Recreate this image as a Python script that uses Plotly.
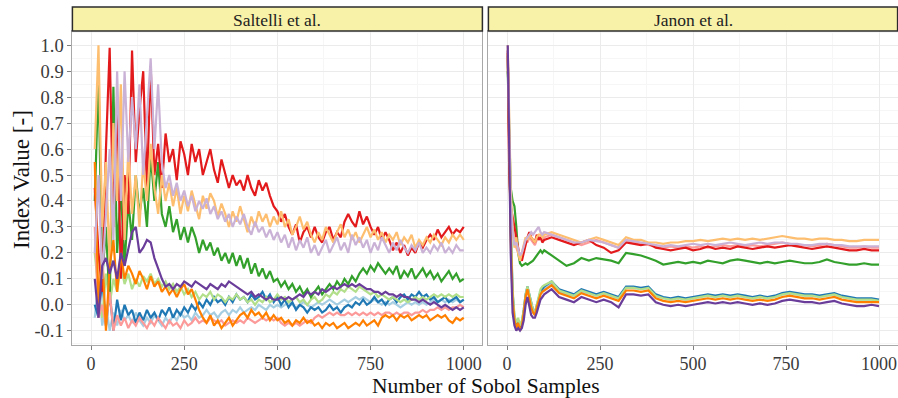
import plotly.graph_objects as go

# Sample counts at which the running index estimates are recorded
saltelli_n = list(range(10, 1001, 10))
janon_n = [2, 6] + list(range(10, 100, 5)) + list(range(100, 1001, 20))

# ---- Saltelli et al. estimator (one list per input factor) ----
saltelli_lightblue = [
    -0.05, 0.1, -0.08, 0.0, -0.1, -0.03, -0.08, -0.02, -0.06, -0.04,
    -0.07, -0.03, -0.06, -0.08, -0.05, -0.07, -0.04, -0.06, -0.08, -0.05,
    -0.07, -0.04, -0.06, -0.03, -0.05, -0.04, -0.06, -0.03, -0.05, -0.04,
    -0.02, -0.04, -0.03, -0.05, -0.03, -0.02, -0.04, -0.02, -0.03, -0.01,
    -0.03, -0.02, -0.01, -0.02, 0.0, -0.01, -0.02, 0.0, -0.01, 0.0,
    -0.01, 0.0, 0.01, 0.0, -0.01, 0.0, 0.01, 0.0, -0.01, 0.0,
    0.01, 0.0, 0.01, 0.02, 0.01, 0.0, 0.01, 0.02, 0.01, 0.02,
    0.03, 0.02, 0.03, 0.02, 0.01, 0.02, 0.01, 0.0, 0.01, 0.0,
    0.01, 0.0, -0.01, 0.0, 0.01, 0.0, 0.01, 0.0, 0.01, 0.0,
    0.01, 0.02, 0.01, 0.02, 0.01, 0.02, 0.01, 0.02, 0.01, 0.02,
]
saltelli_blue = [
    0.0, -0.05, 0.1, -0.08, 0.05, -0.1, 0.02, -0.06, 0.0, -0.04,
    -0.02, -0.07, -0.03, -0.06, -0.02, -0.05, -0.03, -0.06, -0.02, -0.04,
    -0.01, -0.05, -0.02, -0.04, -0.01, -0.03, 0.0, -0.02, 0.01, -0.01,
    0.02, 0.0, 0.03, 0.01, 0.02, 0.0, 0.03, 0.01, 0.04, 0.02,
    0.03, 0.01, 0.04, 0.02, 0.03, 0.05, 0.02, 0.04, 0.01, 0.03,
    0.0, 0.02, -0.01, 0.01, -0.02, 0.0, -0.01, -0.03, -0.01, -0.02,
    -0.01, -0.03, -0.02, 0.0, -0.02, -0.01, -0.03, -0.01, 0.0, -0.01,
    0.01, 0.0, 0.02, 0.0, 0.01, 0.03, 0.01, 0.02, 0.0, 0.02,
    0.03, 0.01, 0.03, 0.04, 0.02, 0.04, 0.03, 0.05, 0.03, 0.04,
    0.02, 0.03, 0.01, 0.02, 0.03, 0.01, 0.02, 0.03, 0.01, 0.02,
]
saltelli_lightgreen = [
    0.2, 0.05, -0.05, 0.12, 0.0, 0.1, 0.05, 0.15, 0.08, 0.12,
    0.06, 0.1, 0.07, 0.11, 0.09, 0.12, 0.08, 0.1, 0.07, 0.09,
    0.06, 0.08, 0.05, 0.07, 0.04, 0.06, 0.03, 0.05, 0.02, 0.04,
    0.03, 0.05, 0.02, 0.04, 0.03, 0.01, 0.03, 0.02, 0.04, 0.02,
    0.03, 0.01, 0.02, 0.0, 0.02, 0.01, 0.03, 0.01, 0.02, 0.04,
    0.02, 0.03, 0.01, 0.02, 0.03, 0.01, 0.02, 0.0, 0.02, 0.03,
    0.01, 0.02, 0.04, 0.03, 0.05, 0.04, 0.06, 0.05, 0.07, 0.06,
    0.05, 0.07, 0.06, 0.05, 0.04, 0.05, 0.03, 0.04, 0.03, 0.02,
    0.03, 0.02, 0.01, 0.02, 0.01, 0.02, 0.03, 0.02, 0.03, 0.02,
    0.03, 0.04, 0.03, 0.04, 0.03, 0.04, 0.03, 0.04, 0.03, 0.03,
]
saltelli_green = [
    0.4, 0.88, 0.1, 0.3, 0.0, 0.84, 0.2, 0.45, 0.15, 0.4,
    0.25, 0.5, 0.35, 0.45, 0.3, 0.58, 0.4, 0.55, 0.35, 0.3,
    0.38, 0.28, 0.33, 0.25, 0.3, 0.24, 0.3, 0.26, 0.2, 0.25,
    0.21, 0.24, 0.19, 0.22, 0.17, 0.2, 0.16, 0.2, 0.15, 0.19,
    0.14, 0.18, 0.12, 0.16, 0.11, 0.14, 0.1, 0.13, 0.09, 0.1,
    0.07, 0.09, 0.06, 0.08, 0.05, 0.07, 0.04, 0.06, 0.03, 0.05,
    0.07, 0.04, 0.06, 0.08, 0.06, 0.09, 0.07, 0.1, 0.08, 0.11,
    0.09, 0.12, 0.14, 0.12, 0.15, 0.13, 0.16, 0.14, 0.12, 0.14,
    0.12, 0.15, 0.1, 0.13, 0.11, 0.14, 0.1, 0.12, 0.14, 0.11,
    0.13, 0.1, 0.12, 0.09, 0.11, 0.13, 0.1, 0.12, 0.09, 0.1,
]
saltelli_pink = [
    0.3, -0.05, 0.0, -0.08, 0.05, -0.1, -0.04, -0.08, -0.05, -0.09,
    -0.06, -0.08, -0.05, -0.07, -0.09, -0.06, -0.08, -0.05, -0.07, -0.09,
    -0.06, -0.08, -0.07, -0.09, -0.06, -0.08, -0.07, -0.05, -0.07, -0.06,
    -0.07, -0.05, -0.06, -0.07, -0.06, -0.08, -0.07, -0.06, -0.07, -0.06,
    -0.07, -0.05, -0.06, -0.07, -0.06, -0.05, -0.06, -0.05, -0.06, -0.05,
    -0.07, -0.08, -0.07, -0.08, -0.07, -0.08, -0.07, -0.06, -0.07, -0.05,
    -0.04, -0.05, -0.04, -0.03, -0.04, -0.03, -0.04, -0.04, -0.03, -0.04,
    -0.03, -0.04, -0.03, -0.04, -0.03, -0.04, -0.03, -0.04, -0.03, -0.03,
    -0.04, -0.03, -0.04, -0.03, -0.03, -0.04, -0.03, -0.03, -0.02, -0.03,
    -0.02, -0.02, -0.01, -0.02, -0.01, -0.02, -0.01, -0.01, 0.0, -0.01,
]
saltelli_red = [
    0.45, 0.2, 0.05, 0.6, 0.99, 0.3, 0.8, 0.1, 0.5, 0.35,
    0.98, 0.55, 0.75, 0.9, 0.45, 0.92, 0.5, 0.62, 0.45, 0.66,
    0.55, 0.6, 0.48, 0.63, 0.58, 0.5, 0.62, 0.55, 0.6, 0.5,
    0.55, 0.6, 0.52, 0.47, 0.56, 0.5, 0.45, 0.5, 0.46, 0.48,
    0.44, 0.5, 0.45, 0.42, 0.48, 0.44, 0.47, 0.42, 0.38, 0.36,
    0.32, 0.35, 0.3, 0.27, 0.31, 0.24, 0.28, 0.3, 0.26, 0.3,
    0.26, 0.24, 0.28, 0.3, 0.25, 0.28, 0.26, 0.32, 0.35, 0.32,
    0.3, 0.36, 0.31, 0.34, 0.3, 0.27, 0.3, 0.25, 0.28, 0.25,
    0.21, 0.24, 0.2, 0.23, 0.19, 0.22, 0.2, 0.24, 0.22, 0.25,
    0.27, 0.25, 0.29, 0.26, 0.28, 0.3, 0.27, 0.29, 0.28, 0.3,
]
saltelli_lightorange = [
    0.6, 1.0, 0.3, 0.55, 0.15, 0.7, 0.4, 0.85, 0.25, 0.6,
    0.35, 0.5, 0.3, 0.55, 0.4, 0.62, 0.45, 0.35, 0.5, 0.4,
    0.47, 0.38, 0.45, 0.35, 0.42, 0.36, 0.44, 0.38, 0.33, 0.42,
    0.37, 0.43, 0.4, 0.34, 0.39, 0.35, 0.3, 0.36, 0.32, 0.38,
    0.33, 0.28, 0.34, 0.3, 0.36, 0.32, 0.35, 0.3, 0.34, 0.31,
    0.36, 0.3, 0.33, 0.27, 0.3, 0.34, 0.29, 0.32, 0.27, 0.24,
    0.28, 0.25, 0.3, 0.27, 0.24, 0.28, 0.31, 0.26, 0.29, 0.25,
    0.28, 0.24, 0.27, 0.3, 0.26, 0.29, 0.25, 0.28, 0.24, 0.27,
    0.25, 0.28, 0.23, 0.26, 0.24, 0.27, 0.22, 0.25, 0.23, 0.26,
    0.24, 0.27, 0.25, 0.23, 0.26, 0.24, 0.27, 0.25, 0.27, 0.25,
]
saltelli_orange = [
    0.55, 0.0, 0.2, -0.1, 0.15, 0.25, 0.05, 0.2, 0.1, 0.15,
    0.12, 0.08, 0.13, 0.1, 0.06, 0.11, 0.07, 0.09, 0.05, 0.07,
    0.04, 0.06, 0.03, 0.06, 0.08, 0.04, 0.06, 0.02, -0.02, -0.05,
    -0.07, -0.04, -0.08, -0.06, -0.09, -0.07, -0.05, -0.08, -0.06, -0.04,
    -0.03, -0.05, -0.02, -0.04, -0.03, -0.05, -0.03, -0.06, -0.04, -0.06,
    -0.05, -0.07, -0.06, -0.08, -0.06, -0.07, -0.05, -0.07, -0.06, -0.08,
    -0.07, -0.09, -0.07, -0.08, -0.07, -0.09, -0.08, -0.07, -0.09, -0.08,
    -0.07, -0.08, -0.06, -0.08, -0.07, -0.06, -0.08, -0.05, -0.04, -0.05,
    -0.04, -0.06, -0.04, -0.05, -0.04, -0.06, -0.05, -0.04, -0.05, -0.04,
    -0.06, -0.05, -0.04, -0.05, -0.04, -0.06, -0.07, -0.05, -0.06, -0.05,
]
saltelli_lightpurple = [
    0.2, 0.5, 0.1, 0.35, 0.6, 0.25, 0.9, 0.4, 0.9, 0.55,
    0.8, 0.6, 0.85, 0.5, 0.75, 0.95, 0.6, 0.85, 0.55, 0.45,
    0.5, 0.42, 0.47, 0.4, 0.44, 0.38, 0.42, 0.36, 0.4, 0.37,
    0.41, 0.35, 0.38, 0.33, 0.36, 0.32, 0.35, 0.3, 0.34, 0.31,
    0.35, 0.3, 0.27, 0.32, 0.28, 0.3, 0.26, 0.29, 0.25, 0.28,
    0.24, 0.27, 0.22, 0.26, 0.21, 0.25, 0.22, 0.26, 0.2, 0.23,
    0.19, 0.22, 0.25, 0.2, 0.23, 0.26, 0.21, 0.24, 0.2, 0.27,
    0.23, 0.26, 0.22, 0.25, 0.2, 0.24, 0.21, 0.26, 0.23, 0.2,
    0.24, 0.21, 0.25, 0.22, 0.2, 0.23, 0.21, 0.24, 0.2, 0.22,
    0.2, 0.23, 0.21, 0.24, 0.2, 0.22, 0.2, 0.23, 0.21, 0.21,
]
saltelli_purple = [
    0.1, -0.05, 0.15, 0.18, 0.12, 0.17, 0.1, 0.2, 0.15, 0.22,
    0.28, 0.3, 0.2, 0.22, 0.25, 0.24, 0.18, 0.14, 0.1, 0.07,
    0.08, 0.06, 0.08, 0.07, 0.09, 0.08, 0.07, 0.09, 0.08, 0.07,
    0.06, 0.08, 0.07, 0.06, 0.08, 0.07, 0.09, 0.08, 0.07, 0.06,
    0.05, 0.04, 0.05, 0.03, 0.04, 0.03, 0.02, 0.03, 0.02, 0.02,
    0.03, 0.02, 0.03, 0.02, 0.03, 0.04, 0.03, 0.05, 0.04, 0.05,
    0.04, 0.06, 0.05, 0.06, 0.07, 0.06, 0.07, 0.08, 0.07, 0.08,
    0.07, 0.08, 0.07, 0.06, 0.06, 0.05, 0.05, 0.04, 0.05, 0.04,
    0.04, 0.03, 0.04, 0.03, 0.03, 0.02, 0.02, 0.01, 0.02, 0.01,
    0.0, 0.01, 0.0, -0.01, 0.0, -0.01, -0.02, -0.01, -0.02, -0.01,
]

# ---- Janon et al. estimator ----
janon_lightblue = [
    0.95, 0.58, 0.28, 0.04, -0.06, -0.08, -0.07, -0.09, -0.07, -0.03, 0.03, 0.06, 0.03, -0.01, -0.03, -0.04, -0.01, 0.02, 0.04, 0.05,
    0.06, 0.08, 0.05, 0.04, 0.035, 0.05, 0.045, 0.035, 0.045, 0.035, 0.025, 0.065, 0.065, 0.06, 0.065, 0.035,
    0.025, 0.02, 0.025, 0.02, 0.025, 0.03, 0.035, 0.03, 0.035, 0.03, 0.035, 0.03, 0.025, 0.03, 0.025, 0.03,
    0.04, 0.045, 0.04, 0.035, 0.035, 0.03, 0.035, 0.04, 0.03, 0.025, 0.02, 0.02, 0.02, 0.015, 0.02,
]
janon_blue = [
    0.96, 0.6, 0.3, 0.05, -0.05, -0.08, -0.06, -0.09, -0.07, -0.02, 0.04, 0.07, 0.04, 0.0, -0.02, -0.03, 0.0, 0.03, 0.05, 0.06,
    0.07, 0.09, 0.06, 0.05, 0.04, 0.06, 0.05, 0.04, 0.05, 0.04, 0.03, 0.07, 0.07, 0.065, 0.07, 0.04,
    0.03, 0.025, 0.03, 0.025, 0.03, 0.035, 0.04, 0.035, 0.04, 0.035, 0.04, 0.035, 0.03, 0.035, 0.03, 0.035,
    0.045, 0.05, 0.045, 0.04, 0.04, 0.035, 0.04, 0.045, 0.035, 0.03, 0.025, 0.025, 0.025, 0.02, 0.03,
]
janon_lightgreen = [
    0.95, 0.6, 0.32, 0.06, -0.04, -0.07, -0.05, -0.08, -0.06, -0.02, 0.04, 0.07, 0.04, 0.0, -0.02, -0.03, 0.0, 0.03, 0.06, 0.07,
    0.075, 0.09, 0.055, 0.045, 0.035, 0.055, 0.045, 0.035, 0.045, 0.035, 0.025, 0.065, 0.065, 0.06, 0.065, 0.035,
    0.025, 0.02, 0.025, 0.02, 0.025, 0.03, 0.035, 0.03, 0.035, 0.03, 0.035, 0.03, 0.025, 0.03, 0.025, 0.03,
    0.04, 0.045, 0.04, 0.035, 0.035, 0.03, 0.035, 0.04, 0.03, 0.025, 0.02, 0.02, 0.02, 0.015, 0.02,
]
janon_green = [
    0.9, 0.6, 0.45, 0.4, 0.38, 0.3, 0.2, 0.16, 0.15, 0.155, 0.16, 0.155, 0.16, 0.165, 0.17, 0.18, 0.19, 0.2, 0.21, 0.2,
    0.21, 0.19, 0.17, 0.15, 0.16, 0.18, 0.17, 0.18, 0.175, 0.17, 0.16, 0.2, 0.195, 0.19, 0.18, 0.17,
    0.155, 0.16, 0.165, 0.16, 0.165, 0.16, 0.17, 0.165, 0.16, 0.17, 0.175, 0.17, 0.165, 0.16, 0.165, 0.16,
    0.165, 0.17, 0.165, 0.16, 0.16, 0.165, 0.175, 0.165, 0.16, 0.155, 0.155, 0.16, 0.155, 0.155,
    0.155,
]
janon_pink = [
    0.97, 0.55, 0.36, 0.3, 0.24, 0.22, 0.2, 0.18, 0.19, 0.22, 0.25, 0.24, 0.26, 0.25, 0.24, 0.23, 0.25, 0.26, 0.26, 0.25,
    0.26, 0.27, 0.26, 0.25, 0.24, 0.23, 0.24, 0.25, 0.24, 0.23, 0.22, 0.25, 0.24, 0.235, 0.23, 0.225,
    0.22, 0.225, 0.22, 0.225, 0.22, 0.225, 0.22, 0.225, 0.23, 0.225, 0.23, 0.225, 0.23, 0.225, 0.23, 0.235,
    0.24, 0.235, 0.23, 0.23, 0.225, 0.23, 0.235, 0.23, 0.225, 0.22, 0.22, 0.225, 0.22, 0.22, 0.22,
]
janon_red = [
    0.98, 0.5, 0.38, 0.34, 0.3, 0.26, 0.22, 0.18, 0.17, 0.2, 0.24, 0.26, 0.28, 0.26, 0.25, 0.24, 0.27, 0.25, 0.26, 0.24,
    0.25, 0.26, 0.25, 0.24, 0.23, 0.24, 0.25, 0.23, 0.22, 0.2, 0.21, 0.24, 0.235, 0.23, 0.235, 0.22,
    0.215, 0.21, 0.215, 0.22, 0.21, 0.215, 0.225, 0.215, 0.22, 0.215, 0.225, 0.22, 0.215, 0.22, 0.225, 0.22,
    0.225, 0.23, 0.225, 0.22, 0.215, 0.22, 0.225, 0.22, 0.215, 0.21, 0.21, 0.215, 0.21, 0.21, 0.215,
]
janon_lightorange = [
    1.0, 0.7, 0.45, 0.3, 0.22, 0.26, 0.2, 0.17, 0.2, 0.24, 0.26, 0.25, 0.27, 0.26, 0.25, 0.24, 0.26, 0.27, 0.27, 0.26,
    0.27, 0.28, 0.27, 0.26, 0.25, 0.24, 0.25, 0.26, 0.25, 0.24, 0.23, 0.26, 0.25, 0.25, 0.24, 0.24,
    0.235, 0.24, 0.24, 0.245, 0.245, 0.25, 0.245, 0.25, 0.255, 0.25, 0.255, 0.25, 0.255, 0.25, 0.255, 0.26,
    0.265, 0.26, 0.255, 0.255, 0.25, 0.255, 0.255, 0.25, 0.25, 0.245, 0.245, 0.25, 0.25, 0.25, 0.25,
]
janon_orange = [
    0.97, 0.55, 0.25, 0.02, -0.06, -0.09, -0.07, -0.1, -0.08, -0.03, 0.03, 0.06, 0.02, -0.01, -0.03, -0.04, -0.01, 0.02, 0.04, 0.05,
    0.055, 0.075, 0.045, 0.035, 0.025, 0.045, 0.035, 0.025, 0.035, 0.025, 0.015, 0.055, 0.055, 0.05, 0.055, 0.025,
    0.015, 0.01, 0.015, 0.01, 0.015, 0.02, 0.025, 0.02, 0.025, 0.02, 0.025, 0.02, 0.015, 0.02, 0.015, 0.02,
    0.03, 0.035, 0.03, 0.025, 0.025, 0.02, 0.025, 0.03, 0.02, 0.015, 0.01, 0.01, 0.01, 0.01, 0.015,
]
janon_lightpurple = [
    0.98, 0.6, 0.4, 0.28, 0.23, 0.24, 0.21, 0.19, 0.2, 0.23, 0.25, 0.26, 0.27, 0.28, 0.27, 0.28, 0.29, 0.3, 0.28, 0.27,
    0.28, 0.27, 0.26, 0.25, 0.24, 0.24, 0.25, 0.245, 0.24, 0.23, 0.22, 0.25, 0.245, 0.24, 0.235, 0.23,
    0.225, 0.23, 0.225, 0.23, 0.235, 0.23, 0.235, 0.23, 0.235, 0.24, 0.235, 0.23, 0.235, 0.24, 0.235, 0.24,
    0.24, 0.235, 0.235, 0.23, 0.23, 0.235, 0.235, 0.23, 0.23, 0.225, 0.225, 0.225, 0.225, 0.225, 0.225,
]
janon_purple = [
    1.0, 0.52, 0.2, -0.03, -0.08, -0.1, -0.09, -0.1, -0.09, -0.06, 0.0, 0.03, -0.01, -0.04, -0.05, -0.05, -0.03, 0.0, 0.02, 0.03,
    0.04, 0.06, 0.03, 0.02, 0.01, 0.03, 0.02, 0.01, 0.02, 0.01, -0.01, 0.04, 0.04, 0.035, 0.04, 0.01,
    0.0, -0.005, 0.0, -0.005, 0.0, 0.005, 0.01, 0.005, 0.01, 0.005, 0.01, 0.005, 0.0, 0.005, 0.0, 0.005,
    0.015, 0.02, 0.015, 0.01, 0.01, 0.005, 0.01, 0.015, 0.005, 0.0, -0.005, -0.005, 0.0, -0.005, 0.0,
]

series_colors = ["#A6CEE3", "#1F78B4", "#B2DF8A", "#33A02C", "#FB9A99",
                 "#E31A1C", "#FDBF6F", "#FF7F00", "#CAB2D6", "#6A3D9A"]
saltelli_series = [saltelli_lightblue, saltelli_blue, saltelli_lightgreen, saltelli_green,
                   saltelli_pink, saltelli_red, saltelli_lightorange, saltelli_orange,
                   saltelli_lightpurple, saltelli_purple]
janon_series = [janon_lightblue, janon_blue, janon_lightgreen, janon_green,
                janon_pink, janon_red, janon_lightorange, janon_orange,
                janon_lightpurple, janon_purple]

panel_titles = ["Saltelli et al.", "Janon et al."]
x_ticks = [0, 250, 500, 750, 1000]
y_ticks = [-0.1, 0.0, 0.1, 0.2, 0.3, 0.4, 0.5, 0.6, 0.7, 0.8, 0.9, 1.0]
y_ticktext = ["-0.1", "0.0", "0.1", "0.2", "0.3", "0.4", "0.5", "0.6", "0.7", "0.8", "0.9", "1.0"]

W, H = 898, 398
FONT = "Liberation Serif, Times New Roman, serif"
LINE_W = 2.2

fig = go.Figure()
for vals, col in zip(saltelli_series, series_colors):
    fig.add_trace(go.Scatter(x=saltelli_n[:len(vals)], y=vals, mode="lines",
                             line=dict(color=col, width=LINE_W), xaxis="x", yaxis="y",
                             showlegend=False, hoverinfo="skip"))
for vals, col in zip(janon_series, series_colors):
    fig.add_trace(go.Scatter(x=janon_n[:len(vals)], y=vals, mode="lines",
                             line=dict(color=col, width=LINE_W), xaxis="x2", yaxis="y2",
                             showlegend=False, hoverinfo="skip"))

# panel geometry in pixels
panels_px = [(72.4, 482.4), (488.4, 897.6)]
plot_top, plot_bottom = 31, 345
strip_top = 7

def fx(px):
    return px / W

def fy(py):
    return 1 - py / H

grid_major = "#EBEBEB"
grid_minor = "#F6F6F6"
tick_font = dict(family=FONT, size=18, color="#3A3A3A")
axis_common = dict(
    range=[-50, 1050], tickmode="array", tickvals=x_ticks,
    ticktext=[str(v) for v in x_ticks], ticks="outside", ticklen=4,
    tickcolor="#7F7F7F", tickwidth=1, showgrid=True, gridcolor=grid_major,
    gridwidth=1, zeroline=False, showline=True, mirror=True,
    linecolor="#A8A8A8", linewidth=1, tickfont=tick_font, ticklabelstandoff=-2,
    minor=dict(tick0=0, dtick=125, showgrid=True, gridcolor=grid_minor, ticklen=0),
)
yaxis_common = dict(
    range=[-0.155, 1.055], tickmode="array", tickvals=y_ticks,
    ticktext=y_ticktext, tickcolor="#7F7F7F", ticklen=4,
    showgrid=True, gridcolor=grid_major, gridwidth=1, zeroline=False,
    showline=True, mirror=True, linecolor="#A8A8A8", linewidth=1,
    tickfont=dict(family=FONT, size=18.5, color="#3A3A3A"),
    minor=dict(tick0=0.05, dtick=0.1, showgrid=True, gridcolor=grid_minor, ticklen=0),
)

fig.update_layout(
    width=W, height=H, margin=dict(l=0, r=0, t=0, b=0),
    paper_bgcolor="white", plot_bgcolor="white",
    font=dict(family=FONT),
    xaxis=dict(domain=[fx(panels_px[0][0]), fx(panels_px[0][1])], anchor="y", **axis_common),
    xaxis2=dict(domain=[fx(panels_px[1][0]), fx(panels_px[1][1])], anchor="y2", **axis_common),
    yaxis=dict(domain=[fy(plot_bottom), fy(plot_top)], anchor="x", ticks="outside",
               **yaxis_common),
    yaxis2=dict(domain=[fy(plot_bottom), fy(plot_top)], anchor="x2", ticks="",
                showticklabels=False, **yaxis_common),
)

shapes = []
annotations = []
for (x0, x1), title in zip(panels_px, panel_titles):
    shapes.append(dict(type="rect", xref="paper", yref="paper",
                       x0=fx(x0), x1=fx(x1), y0=fy(plot_top), y1=fy(strip_top),
                       fillcolor="#F8F2A8", line=dict(color="#2B2B2B", width=1.5),
                       layer="above"))
    annotations.append(dict(text=title, xref="paper", yref="paper",
                            x=fx((x0 + x1) / 2), y=fy((plot_top + strip_top) / 2 + 0.5),
                            xanchor="center", yanchor="middle", showarrow=False,
                            font=dict(family=FONT, size=17.5, color="#222222")))

annotations.append(dict(text="Number of Sobol Samples", xref="paper", yref="paper",
                        x=fx(486), y=fy(385.5), xanchor="center", yanchor="middle",
                        showarrow=False, font=dict(family=FONT, size=21.5, color="#111111")))
annotations.append(dict(text="Index Value [-]", xref="paper", yref="paper",
                        x=fx(22), y=fy(180), xanchor="center", yanchor="middle",
                        textangle=-90, showarrow=False,
                        font=dict(family=FONT, size=23, color="#111111")))

fig.update_layout(shapes=shapes, annotations=annotations)
fig.write_html("out.html")
